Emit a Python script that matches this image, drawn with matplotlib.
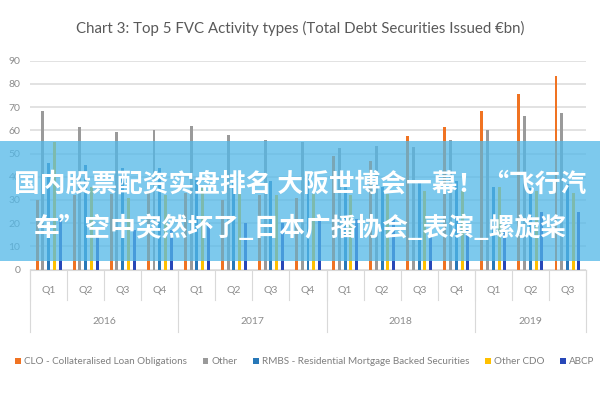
import matplotlib
matplotlib.use('Agg')
import matplotlib.pyplot as plt
from matplotlib.patches import Rectangle
import numpy as np

quarters = ['Q1', 'Q2', 'Q3', 'Q4'] * 3 + ['Q1', 'Q2', 'Q3']
years = ['2016', '2017', '2018', '2019']
year_len = [4, 4, 4, 3]

series = ['CLO - Collateralised Loan Obligations', 'Other',
          'RMBS - Residential Mortgage Backed Securities', 'Other CDO', 'ABCP']
clo = [30, 32, 32.5, 34, 33, 30, 32, 31, 49, 47, 57.5, 61.5, 68.5, 75.5, 83.5]
other = [68.5, 61.5, 59.4, 60, 62, 58.2, 56, 55, 52.5, 53.2, 53, 56, 60, 66.3, 67.5]
rmbs = [46, 45, 44, 44, 40, 38, 38, 40, 35.5, 35.5, 38, 38, 35.4, 35, 37]
other_cdo = [55, 35.5, 31, 32, 35, 36, 32, 32.5, 32, 32.5, 34, 34, 35.4, 34, 33]
abcp = [22, 17, 17, 17, 20, 20, 20, 22.6, 22, 22.6, 17, 18, 20, 25, 25]
colors = ['#F07322', '#9A9A9A', '#2878B8', '#FFC000', '#2747B8']

title = 'Chart 3: Top 5 FVC Activity types (Total Debt Securities Issued €bn)'
banner = ['国内股票配资实盘排名 大阪世博会一幕！“飞行汽',
          '车”空中突然坏了_日本广播协会_表演_螺旋桨']

plt.rcParams['font.family'] = ['Lato', 'DejaVu Sans']

fig = plt.figure(figsize=(6, 4), dpi=100)
ax = fig.add_axes([0.05, 0.326, 0.9267, 0.522])

x = np.arange(len(quarters))
data = [clo, other, rmbs, other_cdo, abcp]
for i, (vals, c, name) in enumerate(zip(data, colors, series)):
    ax.bar(x + 0.5 + (i - 2) * 0.155, vals, width=0.08, color=c, label=name, zorder=2)

ax.set_xlim(0, len(quarters))
ax.set_ylim(0, 90)
ax.set_yticks(range(0, 91, 10))
ax.tick_params(axis='y', length=0, labelsize=7.5, labelcolor='#8C8C8C', pad=7)
ax.set_xticks([])
ax.grid(axis='y', color='#DDDDDD', linewidth=1.2, zorder=0)
for s in ['left', 'right', 'top']:
    ax.spines[s].set_visible(False)
ax.spines['bottom'].set_color('#D9D9D9')

# two-level category axis
tr = ax.get_xaxis_transform()
for k in range(len(quarters) + 1):
    ax.plot([k, k], [0, -0.146], transform=tr, color='#D9D9D9', lw=0.8, clip_on=False)
for k, q in enumerate(quarters):
    ax.text(k + 0.5, -0.098, q, transform=tr, ha='center', va='center',
            fontsize=7.5, color='#8C8C8C')
start = 0
for y, n in zip(years, year_len):
    ax.plot([start, start], [0, -0.30], transform=tr, color='#D9D9D9', lw=0.8, clip_on=False)
    ax.text(start + n / 2, -0.25, y, transform=tr, ha='center', va='center',
            fontsize=7.5, color='#8C8C8C')
    start += n
ax.plot([start, start], [0, -0.30], transform=tr, color='#D9D9D9', lw=0.8, clip_on=False)

fig.text(0.5, 1 - 28 / 400, title, ha='center', va='center', fontsize=10.8, color='#595959')

fig.legend(loc='center', bbox_to_anchor=(0.508, 1 - 362 / 400), ncol=5, frameon=False,
           fontsize=7.1, handlelength=0.6, handleheight=0.6, handletextpad=0.3,
           columnspacing=1.6, labelcolor='#7F7F7F', borderaxespad=0, borderpad=0)

# banner overlay
fig.add_artist(Rectangle((0, 1 - 261 / 400), 1, 120 / 400, transform=fig.transFigure,
                         facecolor='#52B8E8', alpha=0.75, edgecolor='none', zorder=5))
for line, yy in zip(banner, [184, 229]):
    fig.text(0.5, 1 - yy / 400, line, ha='center', va='center', fontsize=18.5,
             fontweight='bold', color='white', zorder=6,
             family=['Noto Sans CJK SC', 'DejaVu Sans'])

fig.savefig('out.png', dpi=100)
